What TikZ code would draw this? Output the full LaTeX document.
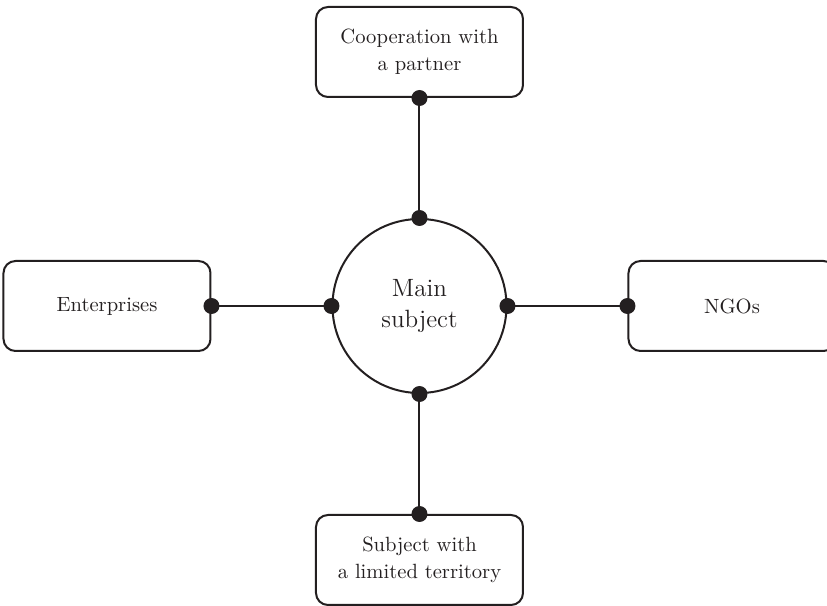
\documentclass[tikz,border=0pt]{standalone}
\usepackage{tikz}
\usetikzlibrary{positioning}
\definecolor{inkblack}{RGB}{35,31,32}

\begin{document}
\begin{tikzpicture}[line width=1pt,draw=inkblack,node distance=60pt,
		box node/.style={rectangle,rounded corners=6pt,draw=inkblack,align=center,
			text=inkblack,font=\fontsize{10.3}{13.5}\selectfont,
			minimum width=103.5pt,minimum height=45pt},
		main node/.style={circle,draw=inkblack,minimum size=87pt,align=center,
			text=inkblack,font=\fontsize{12.5}{15.5}\selectfont}]
		
		\useasboundingbox (-209.75pt,-150pt) rectangle (203.75pt,153pt);
		
		\node[main node] (main) {Main\\subject};
		\node[box node] (coop) [above=of main] {Cooperation with\\a partner};
		\node[box node] (ent) [left=of main] {Enterprises};
		\node[box node] (ngo) [right=of main] {NGOs};
		\node[box node] (terr) [below=of main] {Subject with\\a limited territory};
		
		\draw (main.north) -- (coop.south);
		\draw (main.west) -- (ent.east);
		\draw (main.east) -- (ngo.west);
		\draw (main.south) -- (terr.north);
		
		% dots on the joints
		\foreach \p in {main.north,main.west,main.east,main.south,
			coop.south,ent.east,ngo.west,terr.north}
		\fill[inkblack] (\p) circle (4pt);
\end{tikzpicture}
\end{document}
